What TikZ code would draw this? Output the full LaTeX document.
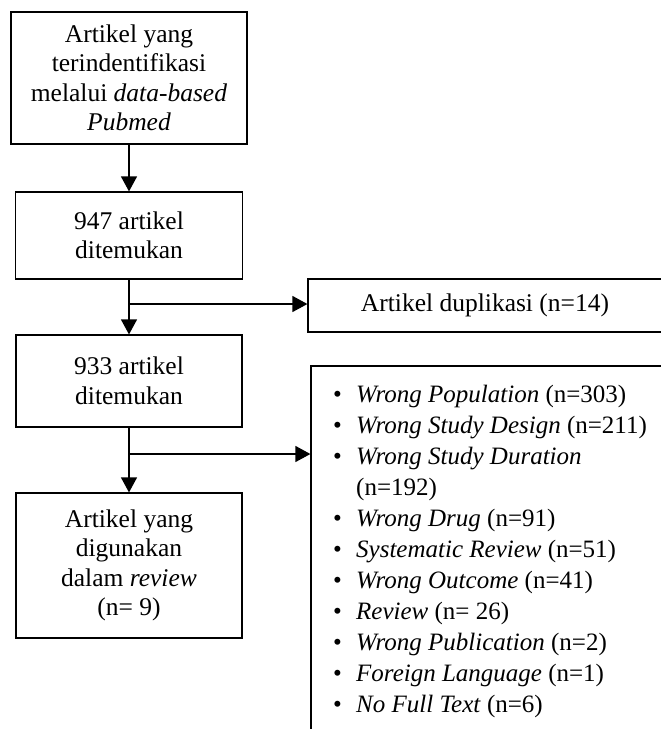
\documentclass[tikz,border=0pt]{standalone}
\usepackage{fontspec}
\setmainfont{Liberation Serif}
\usetikzlibrary{arrows.meta}
\tikzset{
  kotak/.style={draw, line width=1.2pt, align=center, inner sep=0pt,
    font=\fontsize{25.5}{29.5}\selectfont},
  alur/.style={->, line width=1.2pt},
}
\begin{document}
\begin{tikzpicture}[x=1pt, y=-1pt, >={Triangle[length=15pt,width=16pt]}]
  \useasboundingbox (0,0) rectangle (661,729);
  \clip (0,0) rectangle (661,729);
  % kolom kiri
  \node[kotak, minimum width=236pt, minimum height=132pt] (cari) at (129,78)
    {Artikel yang\\ terindentifikasi\\ melalui \textit{data-based}\\ \textit{Pubmed}};
  \node[kotak, minimum width=227pt, minimum height=87pt] (temu) at (129,235.5)
    {947 artikel\\ ditemukan};
  \node[kotak, minimum width=226pt, minimum height=92pt] (saring) at (129,381)
    {933 artikel\\ ditemukan};
  \node[kotak, minimum width=226pt, minimum height=145pt] (pakai) at (129,565.5)
    {Artikel yang\\ digunakan\\ dalam \textit{review}\\ (n= 9)};
  % kolom kanan
  \node[kotak, minimum width=354pt, minimum height=53pt] (dup) at (485,305.5)
    {Artikel duplikasi (n=14)};
  \node[draw, line width=1.2pt, minimum width=351pt, minimum height=394pt] (eks) at (486.5,563) {};
  \node[anchor=base west, inner sep=0pt, font=\fontsize{25}{31}\selectfont] (daftar) at (333,402)
    {\begin{tabular}[t]{@{}p{23pt}@{}l@{}}
      \textbullet & \textit{Wrong Population} (n=303)\\
      \textbullet & \textit{Wrong Study Design} (n=211)\\
      \textbullet & \textit{Wrong Study Duration}\\
                  & (n=192)\\
      \textbullet & \textit{Wrong Drug} (n=91)\\
      \textbullet & \textit{Systematic Review} (n=51)\\
      \textbullet & \textit{Wrong Outcome} (n=41)\\
      \textbullet & \textit{Review} (n= 26)\\
      \textbullet & \textit{Wrong Publication} (n=2)\\
      \textbullet & \textit{Foreign Language} (n=1)\\
      \textbullet & \textit{No Full Text} (n=6)
    \end{tabular}};
  % panah
  \coordinate (c1) at (129,304);
  \coordinate (c2) at (129,454);
  \draw[alur] (cari) -- (temu);
  \draw[alur] (temu) -- (saring);
  \draw[alur] (saring) -- (pakai);
  \draw[alur] (c1) -- (c1 -| dup.west);
  \draw[alur] (c2) -- (c2 -| eks.west);
\end{tikzpicture}
\end{document}
